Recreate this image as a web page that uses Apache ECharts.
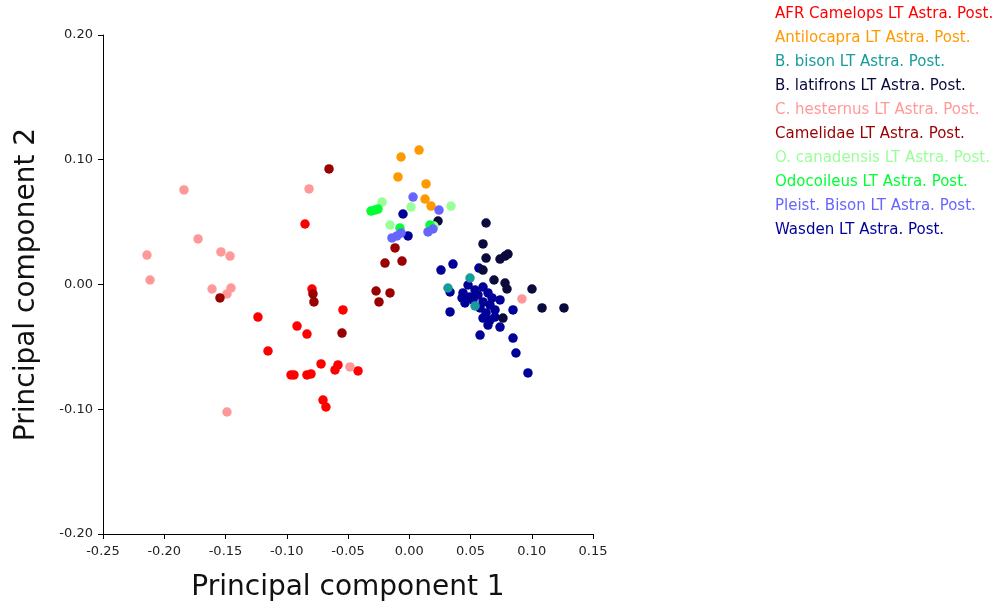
<!DOCTYPE html>
<html>
<head>
<meta charset="utf-8">
<script src="https://cdn.jsdelivr.net/npm/echarts@6/dist/echarts.min.js"></script>
<style>
  html, body { margin: 0; padding: 0; background: #fff; }
  #chart { width: 997px; height: 610px; }
</style>
</head>
<body>
<div id="chart"></div>
<script>
// PCA scores per group, [PC1, PC2]
const afrCamelops = [
  [-0.0851, 0.0485], [-0.0794, -0.0036], [-0.0541, -0.0204], [-0.1235, -0.0261],
  [-0.0916, -0.0333], [-0.0835, -0.0397], [-0.1153, -0.0533], [-0.0720, -0.0637],
  [-0.0582, -0.0645], [-0.0606, -0.0685], [-0.0418, -0.0693], [-0.0965, -0.0725],
  [-0.0941, -0.0725], [-0.0835, -0.0725], [-0.0802, -0.0717], [-0.0704, -0.0926],
  [-0.0680, -0.0982]
];
const antilocapra = [
  [0.0080, 0.1078], [-0.0067, 0.1022], [-0.0092, 0.0862], [0.0137, 0.0806],
  [0.0129, 0.0685], [0.0178, 0.0629]
];
const bBison = [[0.0496, 0.0052], [0.0316, -0.0028], [0.0537, -0.0172]];
const bLatifrons = [
  [0.0235, 0.0509], [0.0627, 0.0493], [0.0602, 0.0325], [0.0627, 0.0212],
  [0.0741, 0.0204], [0.0782, 0.0228], [0.0806, 0.0244], [0.0602, 0.0116],
  [0.0692, 0.0036], [0.0782, 0.0012], [0.0798, -0.0036], [0.1002, -0.0036],
  [0.1084, -0.0188], [0.1263, -0.0188], [0.0765, -0.0269]
];
const cHesternus = [
  [-0.1839, 0.0758], [-0.0818, 0.0766], [-0.1724, 0.0365], [-0.2141, 0.0236],
  [-0.1537, 0.0261], [-0.1463, 0.0228], [-0.2116, 0.0036], [-0.1610, -0.0036],
  [-0.1455, -0.0028], [-0.1488, -0.0076], [-0.0484, -0.0661], [-0.1488, -0.1022],
  [0.0920, -0.0116]
];
const camelidae = [
  [-0.0655, 0.0926], [-0.0786, -0.0076], [-0.0778, -0.0140], [-0.0271, -0.0052],
  [-0.0247, -0.0140], [-0.0157, -0.0068], [-0.1545, -0.0108], [-0.0549, -0.0389],
  [-0.0116, 0.0293], [-0.0198, 0.0172], [-0.0059, 0.0188]
];
const oCanadensis = [
  [-0.0222, 0.0661], [0.0014, 0.0621], [0.0341, 0.0629], [0.0202, 0.0469],
  [-0.0157, 0.0477]
];
const odocoileus = [
  [-0.0312, 0.0589], [-0.0280, 0.0597], [-0.0255, 0.0605], [0.0169, 0.0477],
  [-0.0076, 0.0453]
];
const pleistBison = [
  [0.0031, 0.0701], [0.0243, 0.0597], [0.0153, 0.0421], [0.0194, 0.0445],
  [-0.0141, 0.0373], [-0.0100, 0.0389], [-0.0067, 0.0413]
];
const wasden = [
  [-0.0051, 0.0565], [-0.0010, 0.0389], [0.0357, 0.0164], [0.0259, 0.0116],
  [0.0569, 0.0132], [0.0480, -0.0004], [0.0602, -0.0020], [0.0333, -0.0060],
  [0.0439, -0.0068], [0.0496, -0.0100], [0.0431, -0.0108], [0.0561, -0.0084],
  [0.0643, -0.0068], [0.0676, -0.0108], [0.0455, -0.0148], [0.0602, -0.0140],
  [0.0659, -0.0164], [0.0578, -0.0188], [0.0700, -0.0204], [0.0847, -0.0204],
  [0.0602, -0.0269], [0.0700, -0.0261], [0.0643, -0.0325], [0.0741, -0.0341],
  [0.0578, -0.0405], [0.0847, -0.0429], [0.0871, -0.0549], [0.0969, -0.0709],
  [0.0333, -0.0220], [0.0627, -0.0228], [0.0537, -0.0044], [0.0741, -0.0124],
  [0.0659, -0.0285], [0.0520, -0.0124]
];

const groups = [
  { name: "AFR Camelops LT Astra. Post.", color: "#ff0000", data: afrCamelops },
  { name: "Antilocapra LT Astra. Post.", color: "#ff9900", data: antilocapra },
  { name: "B. bison LT Astra. Post.", color: "#179c9c", data: bBison },
  { name: "B. latifrons LT Astra. Post.", color: "#0a0a3c", data: bLatifrons },
  { name: "C. hesternus LT Astra. Post.", color: "#ff9999", data: cHesternus },
  { name: "Camelidae LT Astra. Post.", color: "#990000", data: camelidae },
  { name: "O. canadensis LT Astra. Post.", color: "#99ff99", data: oCanadensis },
  { name: "Odocoileus LT Astra. Post.", color: "#00ff33", data: odocoileus },
  { name: "Pleist. Bison LT Astra. Post.", color: "#6666ff", data: pleistBison },
  { name: "Wasden LT Astra. Post.", color: "#000099", data: wasden },
];

const font = "DejaVu Sans";
const tickText = { color: "#222", fontSize: 13, fontFamily: font };

// Wasden goes underneath, the rest on top of it
const drawOrder = ["Wasden LT Astra. Post."].concat(
  groups.map((g) => g.name).filter((n) => n !== "Wasden LT Astra. Post.")
);

const chart = echarts.init(document.getElementById("chart"));
chart.setOption({
  animation: false,
  grid: { left: 103, right: 404, top: 35, bottom: 76 },
  legend: {
    orient: "vertical",
    left: 770,
    top: 7,
    padding: 0,
    itemWidth: 0,
    itemHeight: 14,
    itemGap: 9,
    itemStyle: { opacity: 0 },
    selectedMode: false,
    data: groups.map((g) => ({
      name: g.name,
      textStyle: { color: g.color, fontSize: 15, fontFamily: font, lineHeight: 14 },
    })),
  },
  xAxis: {
    type: "value",
    min: -0.25,
    max: 0.15,
    interval: 0.05,
    name: "Principal component 1",
    nameLocation: "middle",
    nameGap: 40,
    nameTextStyle: { color: "#111", fontSize: 28, fontFamily: font },
    axisLine: { onZero: false, lineStyle: { color: "#000", width: 1 } },
    axisTick: { length: 5, lineStyle: { color: "#000" } },
    axisLabel: { ...tickText, margin: 11, formatter: (v) => v.toFixed(2) },
    splitLine: { show: false },
  },
  yAxis: {
    type: "value",
    min: -0.2,
    max: 0.2,
    interval: 0.1,
    name: "Principal component 2",
    nameLocation: "middle",
    nameGap: 62,
    nameTextStyle: { color: "#111", fontSize: 28, fontFamily: font },
    axisLine: { onZero: false, lineStyle: { color: "#000", width: 1 } },
    axisTick: { length: 5, lineStyle: { color: "#000" } },
    axisLabel: { ...tickText, margin: 10, formatter: (v) => v.toFixed(2) },
    splitLine: { show: false },
  },
  series: drawOrder.map((name) => {
    const g = groups.find((item) => item.name === name);
    return {
      name: g.name,
      type: "scatter",
      symbol: "circle",
      symbolSize: 9.5,
      itemStyle: { color: g.color, opacity: 1 },
      data: g.data,
    };
  }),
});
</script>
</body>
</html>
